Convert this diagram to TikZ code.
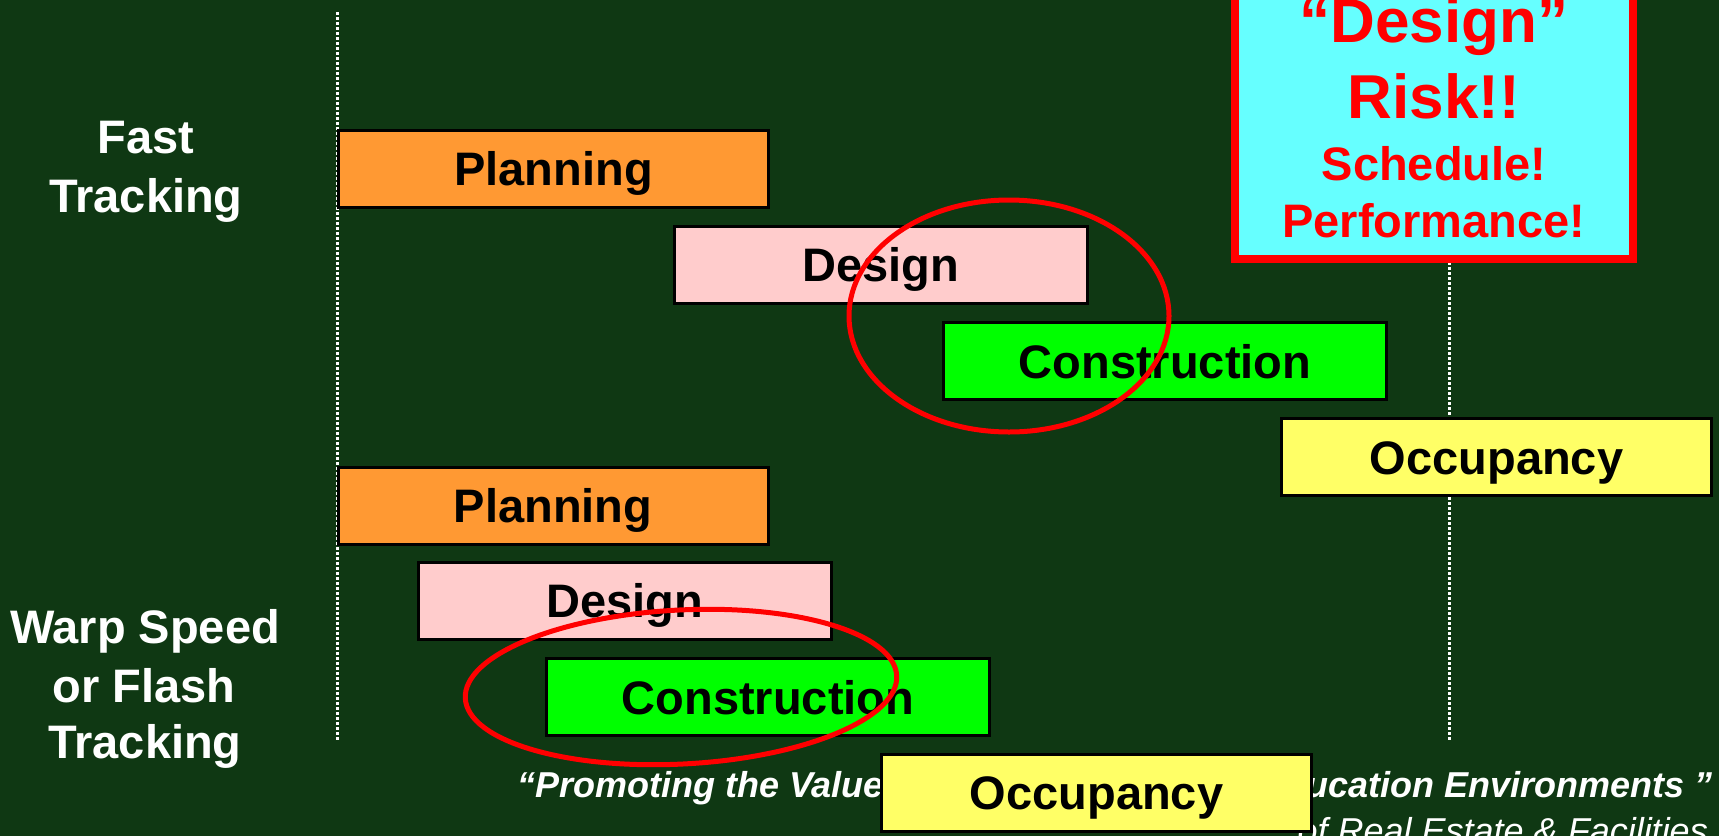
\documentclass[tikz,border=0pt]{standalone}
\usepackage{fontspec}
\setmainfont{Liberation Sans}
\usetikzlibrary{positioning}

\definecolor{slidegreen}{RGB}{15,56,19}
\definecolor{planorange}{RGB}{255,153,51}
\definecolor{designpink}{RGB}{255,204,204}
\definecolor{buildgreen}{RGB}{0,255,0}
\definecolor{occyellow}{RGB}{255,255,102}
\definecolor{riskcyan}{RGB}{102,255,255}
\definecolor{riskred}{RGB}{255,0,0}

\newcommand{\phasefont}{\fontsize{47pt}{56pt}\selectfont\bfseries}
\newcommand{\bigriskfont}{\fontsize{62pt}{70pt}\selectfont\bfseries}
\newcommand{\mottofont}{\fontsize{36pt}{42pt}\selectfont\itshape}

\tikzset{
  bar/.style={draw=black,line width=3pt,inner sep=0pt,minimum height=77pt,
    text height=34pt,text depth=0pt,font=\phasefont},
  planbar/.style={bar,fill=planorange,minimum width=430pt},
  designbar/.style={bar,fill=designpink,minimum width=413pt},
  buildbar/.style={bar,fill=buildgreen,minimum width=443pt},
  occbar/.style={bar,fill=occyellow,minimum width=430pt},
  sidelabel/.style={text=white,font=\phasefont,inner sep=0pt,anchor=base},
  risktext/.style={text=riskred,font=\phasefont,inner sep=0pt,anchor=base},
  ring/.style={draw=riskred,line width=5pt},
  timeline/.style={white,line width=3pt,dash pattern=on 2.5pt off 2.5pt},
}

\begin{document}
\begin{tikzpicture}[x=1pt,y=-1pt]
	\useasboundingbox (0,0) rectangle (1719,836);
	\clip (0,0) rectangle (1719,836);
	\fill[slidegreen] (0,0) rectangle (1719,836);
	
	% time lines
	\coordinate (start top) at (337,12);
	\coordinate (start bottom) at (337,740);
	\coordinate (end top) at (1449,12);
	\coordinate (end bottom) at (1449,740);
	\draw[timeline] (start top) -- (start bottom);
	\draw[timeline] (end top) -- (end bottom);
	
	% fast tracking
	\node[sidelabel] (fast) at (146,153) {Fast};
	\node[sidelabel] (fast track) at (146,212) {Tracking};
	
	\node[planbar] (plan a) at (553.5,168.5) {Planning};
	\node[designbar] (design a) at (881,264.5) {Design};
	\node[buildbar] (build a) at (1165,361) {Construction};
	\node[occbar] (occ a) at (1496.5,457) {Occupancy};
	
	% risk box
	\node[draw=riskred,fill=riskcyan,line width=8pt,minimum width=398pt,
	  minimum height=340pt,anchor=south] (risk) at (1434,263) {};
	\node[risktext,font=\bigriskfont] (risk design) at (1434,42) {“Design”};
	\node[risktext,font=\bigriskfont] (risk title) at (1434,118) {Risk!!};
	\node[risktext] (risk schedule) at (1434,180) {Schedule!};
	\node[risktext] (risk perf) at (1434,237) {Performance!};
	
	% warp speed
	\node[sidelabel] (warp) at (145,643) {Warp Speed};
	\node[sidelabel] (warp or) at (144,702) {or Flash};
	\node[sidelabel] (warp track) at (145,758) {Tracking};
	
	\node[text=white,font=\mottofont\bfseries,inner sep=0pt,anchor=base west] (motto a) at (517,797) {“Promoting the Value};
	\node[text=white,font=\mottofont\bfseries,inner sep=0pt,anchor=base east] (motto b) at (1713,797) {ucation Environments ”};
	\node[text=white,font=\mottofont,inner sep=0pt,anchor=base east] (dept) at (1708,843) {of Real Estate \& Facilities};
	
	\node[planbar] (plan b) at (553,505.5) {Planning};
	\node[designbar] (design b) at (625,600.5) {Design};
	\node[buildbar] (build b) at (768,697) {Construction};
	\node[occbar] (occ b) at (1096.5,792.5) {Occupancy};
	
	% overlap rings
	\draw[ring] (1009,316) ellipse [x radius=160,y radius=116];
	\draw[ring,rotate around={3:(681,687)}] (681,687) ellipse [x radius=216,y radius=77];
	
\end{tikzpicture}
\end{document}
